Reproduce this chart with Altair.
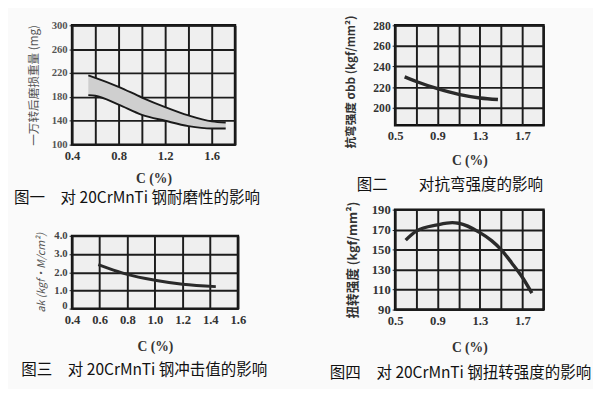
import altair as alt
import pandas as pd

# ---------------- data ----------------
# 图一: wear loss band (upper / lower boundary)
p1_c = [0.54, 0.6, 0.8, 1.0, 1.2, 1.4, 1.6, 1.72]
p1_upper = [216, 212, 197, 179, 163, 149, 139, 137]
p1_lower = [183, 182, 167, 150, 140, 131, 127, 127]
p1_xgrid = [0.4, 0.6, 0.8, 1.0, 1.2, 1.4, 1.6, 1.8]
p1_xshown = [0.4, 0.8, 1.2, 1.6]
p1_ygrid = [100, 140, 180, 220, 260, 300]

# 图二: bending strength
p2_c = [0.59, 0.7, 0.9, 1.1, 1.3, 1.47]
p2_v = [230, 225.5, 218.5, 213, 209.5, 208]
p2_xgrid = [0.5, 0.7, 0.9, 1.1, 1.3, 1.5, 1.7, 1.9]
p2_xshown = [0.5, 0.9, 1.3, 1.7]
p2_ygrid = [200, 220, 240, 260, 280]

# 图三: impact value
p3_c = [0.59, 0.7, 0.8, 1.0, 1.2, 1.44]
p3_v = [2.42, 2.12, 1.88, 1.56, 1.34, 1.21]
p3_xgrid = [0.4, 0.6, 0.8, 1.0, 1.2, 1.4, 1.6]
p3_ygrid = [0, 1, 2, 3, 4]

# 图四: torsional strength
p4_c = [0.6, 0.7, 0.9, 1.04, 1.1, 1.3, 1.41, 1.5, 1.6, 1.7, 1.79]
p4_v = [159.5, 168.5, 174.8, 177, 176.4, 167, 159, 150, 136.7, 122.4, 106.5]
p4_xgrid = [0.5, 0.7, 0.9, 1.1, 1.3, 1.5, 1.7, 1.9]
p4_xshown = [0.5, 0.9, 1.3, 1.7]
p4_ygrid = [90, 110, 130, 150, 170, 190]

captions = [
    "图一　对 20CrMnTi 钢耐磨性的影响",
    "图二　　对抗弯强度的影响",
    "图三　对 20CrMnTi 钢冲击值的影响",
    "图四　对 20CrMnTi 钢扭转强度的影响",
]
ytitles = [
    "一万转后磨损重量 (mg)",
    "抗弯强度 σbb (kgf/mm²)",
    "ak (kgf·M/cm²)",
    "扭转强度 (kgf/mm²)",
]
xtitle = "C (%)"

CJK = "Noto Sans CJK SC"
NUM = "Liberation Serif"
GRID = "#1c1c1c"


def shown_expr(shown):
    arr = "[" + ",".join(repr(v) for v in shown) + "]"
    return f"indexof({arr}, datum.value) >= 0 ? format(datum.value, '.1f') : ''"


def xaxis(grid, expr, tpad=8):
    return alt.Axis(values=grid, labelExpr=expr, title=xtitle, grid=True,
                    ticks=False, domain=False, labelFlush=False, labelOverlap=False,
                    labelFont=NUM, labelFontSize=13, labelFontWeight="bold",
                    labelColor="#333", labelPadding=5,
                    titleFont=NUM, titleFontSize=14, titleFontWeight="bold",
                    titleColor="#333", titlePadding=tpad,
                    gridColor=GRID, gridWidth=2)


def yaxis(grid, title, expr="format(datum.value, 'd')", size=12, color="#333",
          tfont_size=12, tweight="bold", tcolor="#333", tstyle="normal", tpad=6,
          **kw):
    return alt.Axis(values=grid, labelExpr=expr, title=title, grid=True,
                    ticks=True, tickSize=3, tickColor=GRID, domain=False,
                    labelFlush=False, labelOverlap=False,
                    labelFont=NUM, labelFontSize=size,
                    labelFontWeight="bold", labelColor=color, labelPadding=2,
                    titleFont=CJK, titleFontSize=tfont_size, titleFontWeight=tweight,
                    titleColor=tcolor, titleFontStyle=tstyle, titlePadding=tpad,
                    gridColor=GRID, gridWidth=2, **kw)


def caption(text, dx, offset=4):
    return alt.TitleParams(text=text, orient="bottom", anchor="middle", dx=dx,
                           font=CJK, fontSize=16, fontWeight="normal",
                           color="#111", offset=offset)


# ---------------- panel 1 ----------------
df1 = pd.DataFrame({"c": p1_c, "upper": p1_upper, "lower": p1_lower})
x1 = alt.X("c:Q", scale=alt.Scale(domain=[0.4, 1.8], nice=False, zero=False),
           axis=xaxis(p1_xgrid, shown_expr(p1_xshown), tpad=10))
ys1 = alt.Scale(domain=[100, 300], nice=False, zero=False)
ya1 = yaxis(p1_ygrid, ytitles[0], size=11, color="#555",
            tfont_size=12, tweight="normal", tcolor="#555", tpad=11)
band = alt.Chart(df1).mark_area(color="#cfcfcf", interpolate="monotone").encode(
    x=x1, y=alt.Y("upper:Q", scale=ys1, axis=ya1), y2="lower:Q")
up1 = alt.Chart(df1).mark_line(color="#1a1a1a", strokeWidth=2, interpolate="monotone").encode(
    x=x1, y=alt.Y("upper:Q", scale=ys1, axis=ya1))
lo1 = alt.Chart(df1).mark_line(color="#1a1a1a", strokeWidth=2, interpolate="monotone").encode(
    x=x1, y=alt.Y("lower:Q", scale=ys1, axis=ya1))
p1 = alt.layer(band, up1, lo1).properties(width=168, height=123,
                                          title=caption(captions[0], -17, offset=5))

# ---------------- panel 2 ----------------
df2 = pd.DataFrame({"c": p2_c, "v": p2_v})
p2 = alt.Chart(df2).mark_line(color="#2a2a2a", strokeWidth=3.5, interpolate="monotone").encode(
    x=alt.X("c:Q", scale=alt.Scale(domain=[0.5, 1.9], nice=False, zero=False),
            axis=xaxis(p2_xgrid, shown_expr(p2_xshown), tpad=11)),
    y=alt.Y("v:Q", scale=alt.Scale(domain=[183, 280], nice=False, zero=False),
            axis=yaxis(p2_ygrid, ytitles[1], size=12, tfont_size=12, tpad=16,
                       titleY=58)),
).properties(width=153, height=103, title=caption(captions[1], -20, offset=11))

# ---------------- panel 3 ----------------
df3 = pd.DataFrame({"c": p3_c, "v": p3_v})
p3 = alt.Chart(df3).mark_line(color="#2a2a2a", strokeWidth=3, interpolate="monotone").encode(
    x=alt.X("c:Q", scale=alt.Scale(domain=[0.4, 1.6], nice=False, zero=False),
            axis=xaxis(p3_xgrid, "format(datum.value, '.1f')", tpad=14)),
    y=alt.Y("v:Q", scale=alt.Scale(domain=[0, 4], nice=False, zero=False),
            axis=yaxis(p3_ygrid, ytitles[2],
                       expr="datum.value == 0 ? '0' : format(datum.value, '.1f')",
                       size=11, color="#444", tfont_size=11, tweight="normal",
                       tcolor="#555", tstyle="italic", tpad=8,
                       labelOffset={"condition": {"test": "datum.value == 0",
                                                  "value": -3},
                                    "value": 0})),
).properties(width=171, height=75, title=caption(captions[2], -11, offset=9))

# ---------------- panel 4 ----------------
df4 = pd.DataFrame({"c": p4_c, "v": p4_v})
p4 = alt.Chart(df4).mark_line(color="#2a2a2a", strokeWidth=3.5, interpolate="monotone").encode(
    x=alt.X("c:Q", scale=alt.Scale(domain=[0.5, 1.9], nice=False, zero=False),
            axis=xaxis(p4_xgrid, shown_expr(p4_xshown), tpad=14)),
    y=alt.Y("v:Q", scale=alt.Scale(domain=[90, 190], nice=False, zero=False),
            axis=yaxis(p4_ygrid, ytitles[3], size=13, tfont_size=13, tpad=12)),
).properties(width=153, height=103, title=caption(captions[3], -9, offset=12))

left = alt.vconcat(p1, p3, spacing=21)
right = alt.vconcat(p2, p4, spacing=4)
chart = alt.hconcat(left, right, spacing=61).configure(
    background="#fafafa",
    padding={"left": 4, "top": 0, "right": 0, "bottom": 0},
).configure_view(stroke="#111", strokeWidth=2.5, fill="#efefef")

chart.save("out.html", embed_options={"renderer": "svg", "actions": False})
